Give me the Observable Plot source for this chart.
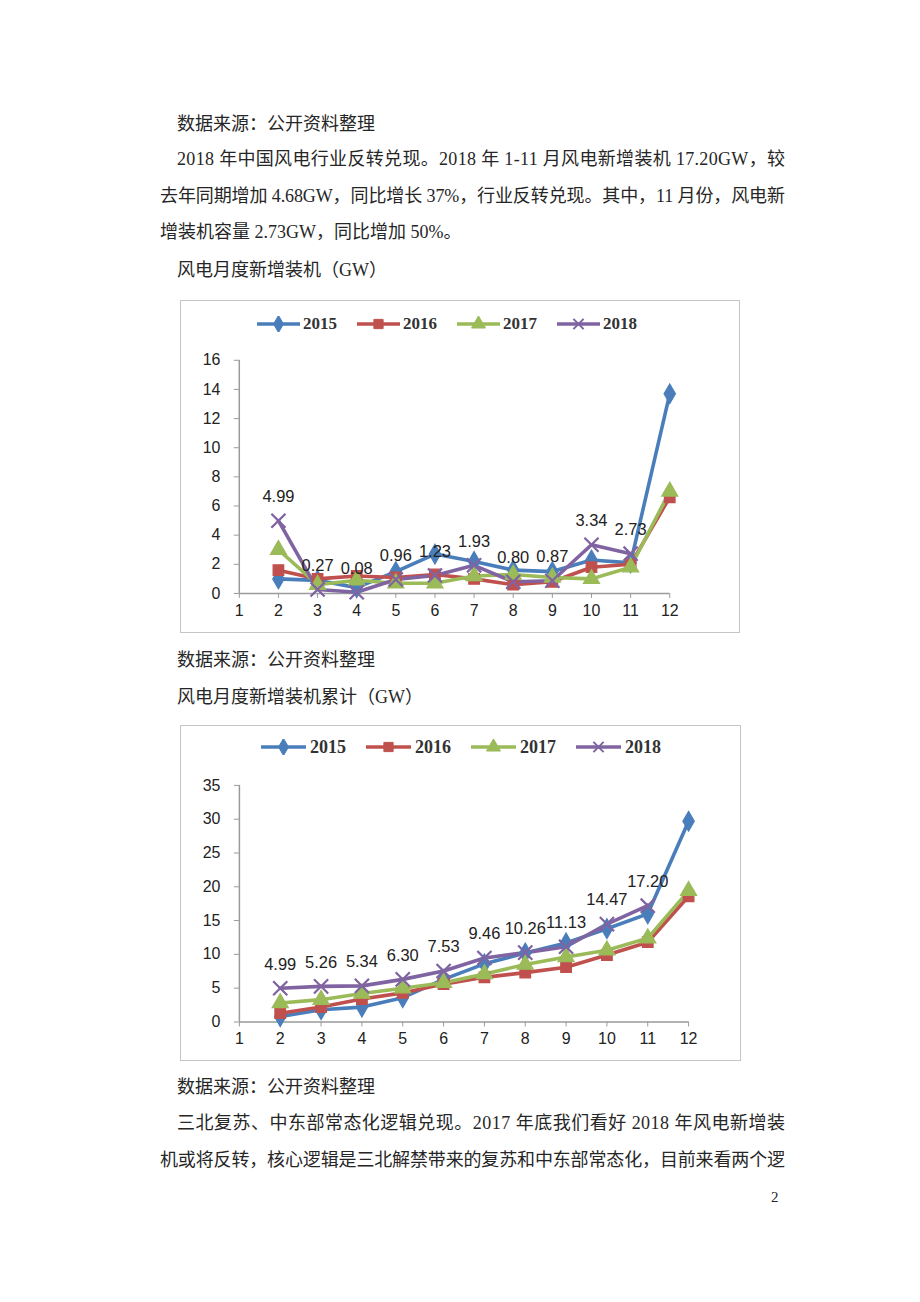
<!DOCTYPE html>
<html><head><meta charset="utf-8">
<script src="https://cdn.jsdelivr.net/npm/d3@7"></script>
<script src="https://cdn.jsdelivr.net/npm/@observablehq/plot@0.6"></script>
<style>
body{margin:0;background:#fff;width:920px;height:1302px;position:relative;overflow:hidden;font-family:"Liberation Serif","Noto Sans CJK SC",serif;color:#262626}
.t{position:absolute;font-size:18px;line-height:20px;white-space:nowrap}
.box{position:absolute;border:1px solid #c4c4c4;box-sizing:border-box;background:#fff}
.box svg.plot{position:absolute;left:0;top:0}
.legend{position:absolute;display:flex;align-items:center;font-family:"Liberation Serif",serif;font-weight:bold;color:#333;height:20px}
.legend .it{display:flex;align-items:center}
.legend svg{display:block}
.pg{position:absolute;font-family:"Liberation Serif",serif;font-size:15px}
</style>
</head><body>
<div class="t" style="left:177px;top:114px">数据来源：公开资料整理</div>
<div class="t fit" data-w="608" style="left:177px;top:149px">2018 年中国风电行业反转兑现。2018 年 1-11 月风电新增装机 17.20GW，较</div>
<div class="t fit" data-w="625" style="left:160px;top:186px">去年同期增加 4.68GW，同比增长 37%，行业反转兑现。其中，11 月份，风电新</div>
<div class="t" style="left:160px;top:222px">增装机容量 2.73GW，同比增加 50%。</div>
<div class="t" style="left:177px;top:260px">风电月度新增装机（GW）</div>
<div class="box" id="c1" style="left:180px;top:300px;width:560px;height:333px"></div>
<div class="t" style="left:177px;top:650px">数据来源：公开资料整理</div>
<div class="t" style="left:177px;top:687px">风电月度新增装机累计（GW）</div>
<div class="box" id="c2" style="left:180px;top:725px;width:561px;height:336px"></div>
<div class="t" style="left:177px;top:1077px">数据来源：公开资料整理</div>
<div class="t fit" data-w="608" style="left:177px;top:1113px">三北复苏、中东部常态化逻辑兑现。2017 年底我们看好 2018 年风电新增装</div>
<div class="t fit" data-w="625" style="left:160px;top:1150px">机或将反转，核心逻辑是三北解禁带来的复苏和中东部常态化，目前来看两个逻</div>
<div class="pg" style="left:771px;top:1189px">2</div>
<script>
const months = [2,3,4,5,6,7,8,9,10,11,12];
const xTicks = [1,2,3,4,5,6,7,8,9,10,11,12];
const years = ["2015","2016","2017","2018"];
const colors = ["#4A7EBB","#C0504D","#9BBB59","#8064A2"];
const symbols = ["diamond","square","triangle","times"];

// 风电月度新增装机 (GW)
const monthly2015 = [1.0, 0.9, 0.4, 1.5, 2.7, 2.2, 1.6, 1.5, 2.3, 2.1, 13.7];
const monthly2016 = [1.6, 1.0, 1.2, 1.1, 1.3, 1.0, 0.6, 0.8, 1.8, 2.0, 6.6];
const monthly2017 = [3.0, 0.6, 0.9, 0.7, 0.7, 1.2, 1.3, 1.1, 1.0, 1.8, 7.0];
const monthly2018 = [4.99, 0.27, 0.08, 0.96, 1.23, 1.93, 0.80, 0.87, 3.34, 2.73];
const yTicks1 = [0,2,4,6,8,10,12,14,16];

// 风电月度新增装机累计 (GW)
const cum2015 = [0.8, 1.8, 2.2, 3.6, 6.3, 8.6, 10.2, 11.7, 13.8, 16.0, 29.7];
const cum2016 = [1.3, 2.2, 3.4, 4.3, 5.6, 6.6, 7.3, 8.1, 9.9, 11.8, 18.6];
const cum2017 = [2.8, 3.3, 4.2, 5.0, 5.8, 7.1, 8.5, 9.6, 10.6, 12.4, 19.4];
const cum2018 = [4.99, 5.26, 5.34, 6.30, 7.53, 9.46, 10.26, 11.13, 14.47, 17.20];
const yTicks2 = [0,5,10,15,20,25,30,35];

// fit justified body lines to their target widths
document.querySelectorAll(".fit").forEach(el=>{
  const target = +el.dataset.w;
  const n = [...el.textContent].length;
  const w = el.getBoundingClientRect().width;
  el.style.letterSpacing = ((target - w)/(n-1)).toFixed(3)+"px";
});

function rows(series){
  return years.flatMap((yr,i)=>series[i].map((v,j)=>({year:yr, month:months[j], value:v})));
}

function chart(el, data, yTicks, opts){
  const lab = data.filter(d=>d.year==="2018");
  const yMax = yTicks[yTicks.length-1];
  const p = Plot.plot({
    width: opts.width, height: opts.height,
    marginLeft: 58, marginRight: opts.marginRight, marginTop: 59, marginBottom: opts.marginBottom,
    x:{domain:[1,12], label:null},
    y:{domain:[0,yMax], label:null},
    color:{domain:years, range:colors},
    symbol:{domain:years, range:symbols},
    style:{fontFamily:"Liberation Sans, Arial, sans-serif", fontSize:"16px", background:"transparent", overflow:"visible"},
    marks:[
      Plot.axisY({ticks:yTicks, tickSize:5, tickPadding:14, stroke:"#9a9a9a", fill:"#222", fontSize:16, label:null}),
      Plot.axisX({ticks:xTicks, tickSize:5, tickPadding:6, tickFormat:d=>String(d), stroke:"#9a9a9a", fill:"#222", fontSize:16, label:null}),
      Plot.ruleX([1], {y1:0, y2:yMax, stroke:"#9a9a9a", strokeWidth:1.5}),
      Plot.ruleY([0], {x1:1, x2:12, stroke:"#9a9a9a", strokeWidth:1.5}),
      Plot.line(data, {x:"month", y:"value", stroke:"year", z:"year", strokeWidth:3.6, curve:"linear"}),
      Plot.dot(data, {x:"month", y:"value", symbol:"year", fill:"year", stroke:"year", strokeWidth:1.2, r:6}),
      Plot.dot(lab, {x:"month", y:"value", symbol:"year", stroke:"year", strokeWidth:2.2, r:6.5}),
      Plot.text(lab, {x:"month", y:"value", text:d=>d.value.toFixed(2), dy:-24, fill:"#222", fontSize:16.5})
    ]
  });
  el.appendChild(p);
  const lg = document.createElement("div");
  lg.className = "legend";
  lg.style.left = opts.legendLeft+"px";
  lg.style.top = opts.legendTop+"px";
  lg.style.fontSize = opts.legendFont+"px";
  years.forEach((yr,i)=>{
    const it = document.createElement("div");
    it.className = "it";
    it.style.marginRight = (i<3? opts.legendGap:0)+"px";
    const w = opts.swatch, h = 16;
    const sym = d3.symbol().type([d3.symbolDiamond,d3.symbolSquare,d3.symbolTriangle,d3.symbolTimes][i]).size(i===3?70:85)();
    const isTimes = i===3;
    it.innerHTML = `<svg width="${w}" height="${h}"><line x1="0" x2="${w}" y1="${h/2}" y2="${h/2}" stroke="${colors[i]}" stroke-width="3.6"/>`+
      `<path transform="translate(${w/2},${h/2})" d="${sym}" fill="${isTimes?'none':colors[i]}" stroke="${colors[i]}" stroke-width="${isTimes?2:1}"/></svg>`+
      `<span style="margin-left:${opts.textGap}px">${yr}</span>`;
    lg.appendChild(it);
  });
  el.appendChild(lg);
}

chart(document.getElementById("c1"), rows([monthly2015,monthly2016,monthly2017,monthly2018]), yTicks1,
  {width:560, height:332, marginRight:70, marginBottom:39, legendLeft:76, legendTop:13, legendFont:17, legendGap:20, swatch:43, textGap:3});
chart(document.getElementById("c2"), rows([cum2015,cum2016,cum2017,cum2018]), yTicks2,
  {width:560, height:335, marginRight:52, marginBottom:39, legendLeft:80, legendTop:11, legendFont:18, legendGap:20, swatch:45, textGap:4});
</script>
</body></html>
